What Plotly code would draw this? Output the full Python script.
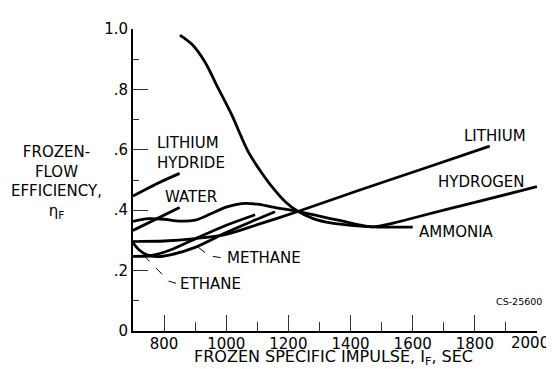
import plotly.graph_objects as go

# ---- data ----
isp_ammonia = [851, 889, 932, 974, 1017, 1071, 1110, 1147, 1190, 1228, 1280, 1340, 1410, 1472, 1600]
eta_ammonia = [0.980, 0.950, 0.890, 0.804, 0.717, 0.593, 0.530, 0.478, 0.428, 0.398, 0.372, 0.357, 0.349, 0.345, 0.344]

isp_hydrogen = [700, 750, 800, 850, 900, 950, 1000, 1050, 1100, 1150, 1230, 1300, 1365, 1470, 1540, 1623, 1800, 2000]
eta_hydrogen = [0.363, 0.372, 0.370, 0.364, 0.367, 0.388, 0.410, 0.422, 0.420, 0.410, 0.396, 0.380, 0.366, 0.345, 0.358, 0.380, 0.426, 0.478]

isp_lithium = [700, 800, 900, 1000, 1100, 1228, 1430, 1650, 1848]
eta_lithium = [0.297, 0.298, 0.306, 0.320, 0.352, 0.395, 0.467, 0.543, 0.612]

isp_methane = [700, 720, 745, 775, 820, 900, 1000, 1080, 1157]
eta_methane = [0.292, 0.268, 0.252, 0.246, 0.252, 0.277, 0.326, 0.362, 0.395]

isp_ethane = [700, 760, 820, 900, 1000, 1093]
eta_ethane = [0.247, 0.250, 0.268, 0.305, 0.350, 0.385]

isp_water = [700, 850]
eta_water = [0.333, 0.409]

isp_lih = [700, 775, 850]
eta_lih = [0.447, 0.487, 0.522]

x_tick_vals = [800, 1000, 1200, 1400, 1600, 1800, 2000]
x_tick_text = ["800", "1000", "1200", "1400", "1600", "1800", ""]
x_last_tick_text = "2000"
x_minor_vals = [900, 1100, 1300, 1500, 1700, 1900]
y_tick_vals = [0, 0.2, 0.4, 0.6, 0.8, 1.0]
y_tick_text = ["0", ".2", ".4", ".6", ".8", "1.0"]
y_minor_vals = [0.1, 0.3, 0.5, 0.7, 0.9]

series = [
    ("Ammonia", isp_ammonia, eta_ammonia),
    ("Hydrogen", isp_hydrogen, eta_hydrogen),
    ("Lithium", isp_lithium, eta_lithium),
    ("Methane", isp_methane, eta_methane),
    ("Ethane", isp_ethane, eta_ethane),
    ("Water", isp_water, eta_water),
    ("Lithium hydride", isp_lih, eta_lih),
]

FONT = "DejaVu Sans"

fig = go.Figure()
for name, xs, ys in series:
    fig.add_trace(go.Scatter(
        x=xs, y=ys, mode="lines", name=name, showlegend=False,
        line=dict(color="black", width=2.8, shape="spline", smoothing=0.8),
        hoverinfo="skip",
    ))

def label(text, x, y, size=15, xanchor="left", ref="data", align="left", yanchor="middle"):
    xr, yr = ("x", "y") if ref == "data" else ("paper", "paper")
    return dict(text=text, x=x, y=y, xref=xr, yref=yr, showarrow=False,
                xanchor=xanchor, yanchor=yanchor, align=align,
                font=dict(family=FONT, size=size, color="black"))

annotations = [
    label("LITHIUM", 1865, 0.645, xanchor="center"),
    label("HYDROGEN", 1822, 0.495, xanchor="center"),
    label("LITHIUM<br>HYDRIDE", 771, 0.590),
    label("WATER", 796, 0.443),
    label("AMMONIA", 1613, 0.328),
    label("METHANE", 996, 0.243),
    label("ETHANE", 846, 0.155),
    label("CS-25600", 1.017, 0.098, size=9.5, xanchor="right", ref="paper"),
    # y-axis title (multi line)
    label("FROZEN-<br>FLOW<br>EFFICIENCY,<br>η<sub>F</sub>", -0.190, 0.492,
          xanchor="center", ref="paper", align="center"),
    # x-axis title
    label("FROZEN SPECIFIC IMPULSE, I<sub>F</sub>, SEC", 0.4975, -0.130,
          size=16, xanchor="center", ref="paper", yanchor="bottom"),
    # last x tick label (shifted inward as in the reference)
    label(x_last_tick_text, 0.982, -0.040, xanchor="center", ref="paper"),
]

shapes = [
    dict(type="path", xref="x", yref="y",
         path="M 733,0.252 L 815,0.165 L 838,0.158",
         line=dict(color="black", width=1, dash="dash")),
    dict(type="path", xref="x", yref="y",
         path="M 909,0.278 L 945,0.249 L 982,0.243",
         line=dict(color="black", width=1, dash="dash")),
]

# page body has an 8px margin; figure sized so the plot area lands where the reference has it
fig.update_layout(
    width=546, height=361,
    margin=dict(l=125, r=17, t=14, b=38),
    paper_bgcolor="white", plot_bgcolor="white",
    font=dict(family=FONT, size=15, color="black"),
    annotations=annotations,
    shapes=shapes,
    xaxis=dict(
        range=[700, 2000], showgrid=False, zeroline=False,
        showline=True, linecolor="black", linewidth=2,
        ticks="inside", ticklen=16, tickwidth=1.2, tickcolor="#333",
        tickvals=x_tick_vals, ticktext=x_tick_text, ticklabelstandoff=-2,
        tickfont=dict(family=FONT, size=15, color="black"),
        minor=dict(tickvals=x_minor_vals, ticks="inside", ticklen=9,
                   tickwidth=1.2, tickcolor="#333", showgrid=False),
    ),
    yaxis=dict(
        range=[0, 1.0], showgrid=False, zeroline=False,
        showline=True, linecolor="black", linewidth=2,
        ticks="inside", ticklen=15, tickwidth=1.2, tickcolor="#333",
        tickvals=y_tick_vals, ticktext=y_tick_text,
        tickfont=dict(family=FONT, size=15, color="black"),
        minor=dict(tickvals=y_minor_vals, ticks="inside", ticklen=6,
                   tickwidth=1.2, tickcolor="#333", showgrid=False),
    ),
)

fig.write_html("out.html")
